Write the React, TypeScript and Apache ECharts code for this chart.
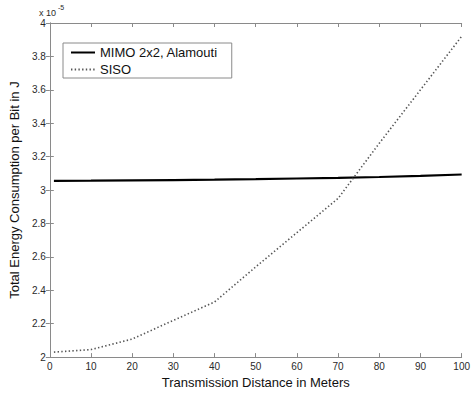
import React, { useEffect, useRef } from "react";
import * as echarts from "echarts";

const distances = [1, 10, 20, 30, 40, 50, 60, 70, 80, 90, 100];
const mimoValues = [3.055, 3.056, 3.058, 3.06, 3.062, 3.065, 3.069, 3.073, 3.078, 3.085, 3.093];
const sisoValues = [2.03, 2.045, 2.108, 2.22, 2.33, 2.54, 2.745, 2.95, 3.28, 3.6, 3.92];
const seriesNames = ["MIMO 2x2, Alamouti", "SISO"];
const xTitle = "Transmission Distance in Meters";
const yTitle = "Total Energy Consumption per Bit in J";

const FONT = "'Liberation Sans', Arial, Helvetica, sans-serif";
const AXIS_COLOR = "#8a8a8a";
const LABEL_COLOR = "#2a2a2a";

export default function App() {
  const ref = useRef<HTMLDivElement>(null);
  useEffect(() => {
    if (!ref.current) return;
    const chart = echarts.init(ref.current, null, { renderer: "svg" });
    const axisCommon = {
      type: "value" as const,
      axisLine: { show: true, lineStyle: { color: AXIS_COLOR, width: 1 } },
      axisTick: { show: true, inside: true, length: 4, lineStyle: { color: AXIS_COLOR } },
      splitLine: { show: false },
    };
    const yFmt = (v: number) => String(+v.toFixed(1));
    chart.setOption({
      animation: false,
      backgroundColor: "#ffffff",
      textStyle: { fontFamily: FONT },
      grid: { left: 39, right: 6, top: 23, bottom: 27, containLabel: false },
      legend: {
        show: true,
        data: seriesNames,
        orient: "vertical",
        left: 63,
        top: 43,
        itemWidth: 24,
        itemHeight: 13,
        itemGap: 4,
        padding: [3, 14, 2, 7],
        borderColor: "#8a8a8a",
        borderWidth: 1,
        backgroundColor: "#ffffff",
        itemStyle: { opacity: 0, color: "transparent", borderWidth: 0 },
        textStyle: { fontSize: 13, color: "#111", fontFamily: FONT },
      },
      xAxis: [
        {
          ...axisCommon,
          position: "bottom",
          min: 0,
          max: 100,
          interval: 10,
          axisLabel: { show: true, fontSize: 10, color: LABEL_COLOR, margin: 4, fontFamily: FONT },
          name: xTitle,
          nameLocation: "middle",
          nameGap: 14,
          nameTextStyle: { fontSize: 13, color: "#111", fontFamily: FONT },
        },
        {
          ...axisCommon,
          position: "top",
          min: 0,
          max: 100,
          interval: 10,
          axisLabel: { show: false },
        },
      ],
      yAxis: [
        {
          ...axisCommon,
          position: "left",
          min: 2,
          max: 4,
          interval: 0.2,
          axisLabel: { show: true, fontSize: 10, color: LABEL_COLOR, margin: 4, formatter: yFmt, fontFamily: FONT },
          name: yTitle,
          nameLocation: "middle",
          nameGap: 24,
          nameTextStyle: { fontSize: 13, color: "#111", fontFamily: FONT },
        },
        {
          ...axisCommon,
          position: "right",
          min: 2,
          max: 4,
          interval: 0.2,
          axisLabel: { show: false },
        },
      ],
      graphic: [
        {
          type: "text",
          left: 39,
          top: 8,
          style: { text: "x 10", fontSize: 9, fill: LABEL_COLOR, fontFamily: FONT },
        },
        {
          type: "text",
          left: 58,
          top: 4,
          style: { text: "-5", fontSize: 7, fill: LABEL_COLOR, fontFamily: FONT },
        },
      ],
      series: [
        {
          name: seriesNames[0],
          type: "line",
          xAxisIndex: 0,
          yAxisIndex: 0,
          symbol: "none",
          showSymbol: false,
          data: distances.map((d, i) => [d, mimoValues[i]]),
          lineStyle: { color: "#000000", width: 2.2, type: "solid" },
          itemStyle: { color: "#000000" },
        },
        {
          name: seriesNames[1],
          type: "line",
          xAxisIndex: 0,
          yAxisIndex: 0,
          symbol: "none",
          showSymbol: false,
          data: distances.map((d, i) => [d, sisoValues[i]]),
          lineStyle: { color: "#555555", width: 1.6, type: [1.4, 2.3] },
          itemStyle: { color: "#555555" },
        },
      ],
    });
    return () => chart.dispose();
  }, []);
  return (
    <div
      ref={ref}
      style={{ position: "fixed", left: 0, top: 0, width: 473, height: 394, background: "#fff" }}
    />
  );
}
